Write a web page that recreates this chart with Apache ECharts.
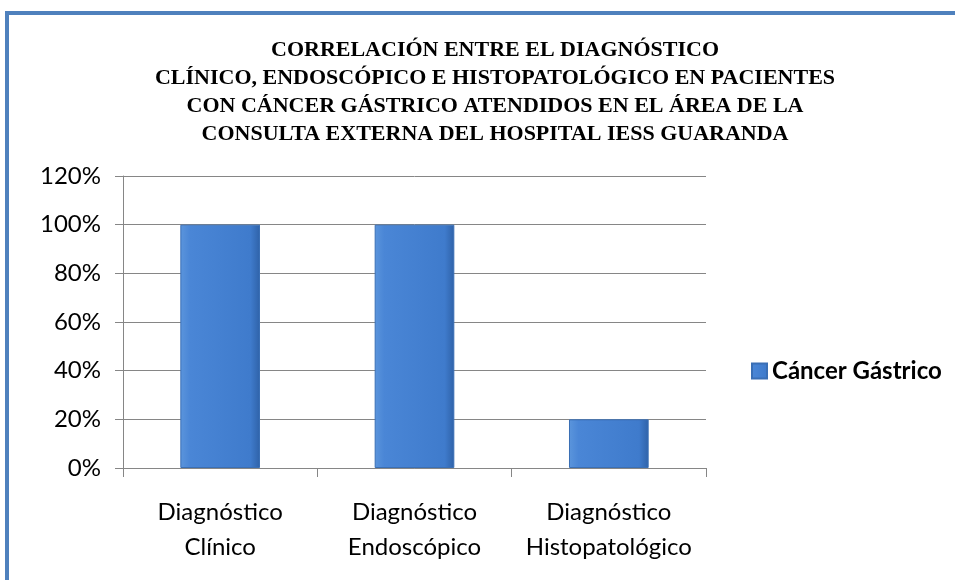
<!DOCTYPE html>
<html>
<head>
<meta charset="utf-8">
<script src="https://cdn.jsdelivr.net/npm/echarts@6/dist/echarts.min.js"></script>
<style>
  html, body { margin: 0; padding: 0; background: #fff; }
  #marco { position: absolute; left: 5px; top: 11px; width: 960px; height: 600px;
           border-top: 4px solid #4f81bd; border-left: 4px solid #4f81bd; }
  #grafico { position: absolute; left: 0; top: 0; width: 955px; height: 580px; }
</style>
</head>
<body>
<div id="marco"></div>
<div id="grafico"></div>
<script>
// Datos del gráfico
const categorias = ['Diagnóstico\nClínico', 'Diagnóstico\nEndoscópico', 'Diagnóstico\nHistopatológico'];
const cancerGastrico = [1.0, 1.0, 0.2];
const nombreSerie = 'Cáncer Gástrico';
const titulo = 'CORRELACIÓN ENTRE EL DIAGNÓSTICO\nCLÍNICO, ENDOSCÓPICO E HISTOPATOLÓGICO EN PACIENTES\nCON CÁNCER GÁSTRICO ATENDIDOS EN EL ÁREA DE LA\nCONSULTA EXTERNA DEL HOSPITAL IESS GUARANDA';

var colorBarra = new echarts.graphic.LinearGradient(0, 0, 1, 0, [
    { offset: 0, color: '#5b95dc' },
    { offset: 0.12, color: '#4a86d6' },
    { offset: 0.88, color: '#3f7bcc' },
    { offset: 1, color: '#2f62a8' }
]);

var option = {
    animation: false,
    title: {
        text: titulo,
        left: 490,
        top: 31,
        textAlign: 'center',
        textStyle: {
            fontFamily: 'Liberation Serif',
            fontWeight: 'bold',
            fontSize: 22,
            lineHeight: 28,
            color: '#000'
        }
    },
    legend: {
        data: [nombreSerie],
        left: 746,
        top: 354,
        icon: 'rect',
        itemWidth: 15,
        itemHeight: 15,
        itemGap: 6,
        textStyle: {
            fontFamily: 'Lato',
            fontWeight: 'bold',
            fontSize: 24,
            color: '#000'
        }
    },
    grid: {
        left: 123,
        right: 249,
        top: 176,
        bottom: 112
    },
    xAxis: {
        type: 'category',
        data: categorias,
        axisLine: { lineStyle: { color: '#868686', width: 1 } },
        axisTick: { show: true, length: 9, lineStyle: { color: '#868686' } },
        axisLabel: {
            interval: 0,
            fontFamily: 'Lato',
            fontSize: 24,
            lineHeight: 35,
            color: '#000',
            margin: 27
        }
    },
    yAxis: {
        type: 'value',
        min: 0,
        max: 1.2,
        interval: 0.2,
        axisLine: { show: true, lineStyle: { color: '#868686', width: 1 } },
        axisTick: { show: true, length: 8, lineStyle: { color: '#868686' } },
        splitLine: { lineStyle: { color: '#868686', width: 1 } },
        axisLabel: {
            fontFamily: 'Lato',
            fontSize: 24,
            color: '#000',
            margin: 22,
            formatter: function (v) { return Math.round(v * 100) + '%'; }
        }
    },
    series: [
        {
            name: nombreSerie,
            type: 'bar',
            data: cancerGastrico,
            barWidth: '41%',
            itemStyle: {
                color: colorBarra,
                borderColor: '#3a6fb5',
                borderWidth: 1
            }
        }
    ]
};

var grafico = echarts.init(document.getElementById('grafico'));
grafico.setOption(option);
</script>
</body>
</html>
